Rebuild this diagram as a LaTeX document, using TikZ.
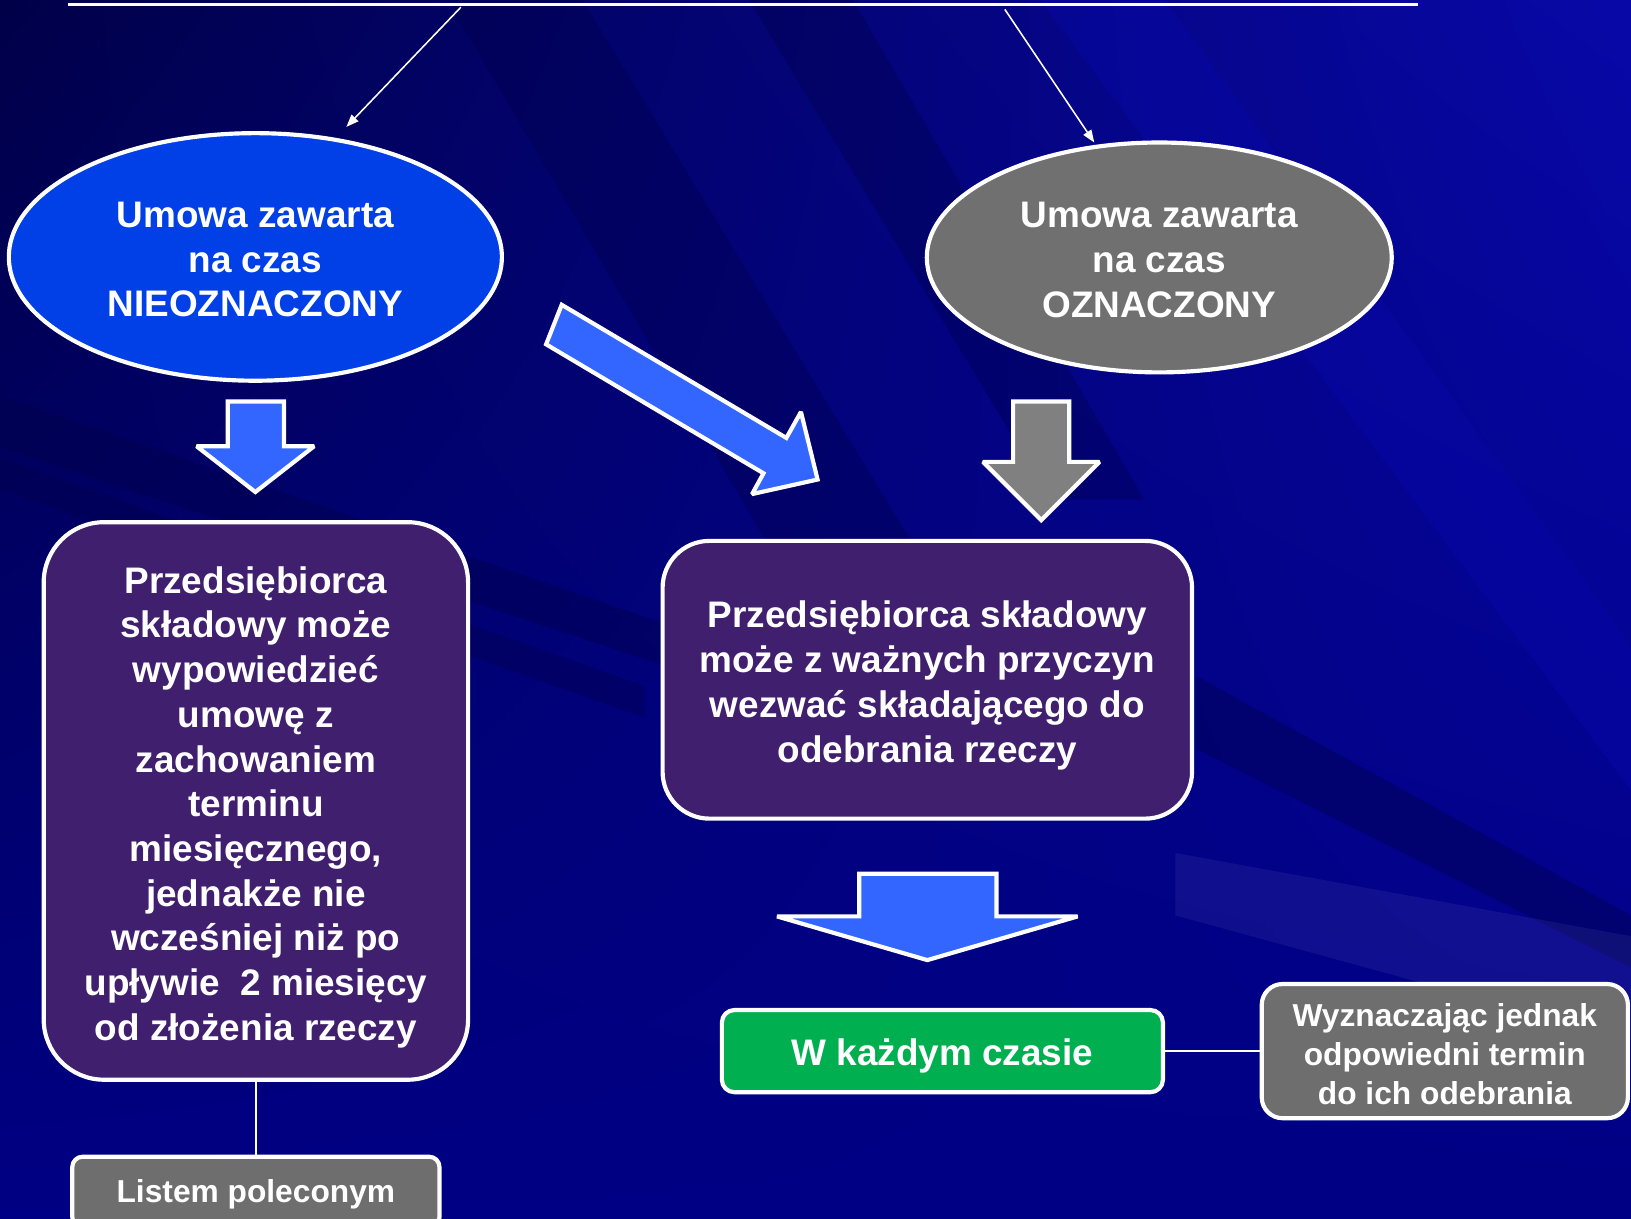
\documentclass[tikz,border=0pt]{standalone}
\usepackage{fontspec}
\setmainfont{Liberation Sans}
\usetikzlibrary{shapes.geometric,arrows.meta,shadings}
\definecolor{bgnavy}{RGB}{0,0,132}
\definecolor{bgdark}{RGB}{0,0,72}
\definecolor{bglight}{RGB}{8,8,168}
\definecolor{ellblue}{RGB}{0,64,230}
\definecolor{ellgray}{RGB}{112,112,112}
\definecolor{arrblue}{RGB}{51,102,255}
\definecolor{arrgray}{RGB}{128,128,128}
\definecolor{boxpurple}{RGB}{63,31,110}
\definecolor{boxgreen}{RGB}{0,176,80}
\definecolor{boxgray}{RGB}{110,110,110}
\begin{document}
\begin{tikzpicture}[x=1pt,y=-1pt,
  txt/.style={text=white,font=\bfseries\fontsize{35.5}{43}\selectfont,align=center,inner sep=0pt},
  smalltxt/.style={text=white,font=\bfseries\fontsize{30.5}{37.5}\selectfont,align=center,inner sep=0pt},
  oval/.style={ellipse,draw=white,line width=4pt,inner sep=0pt},
  panel/.style={rectangle,draw=white,line width=4pt,inner sep=0pt},
  blockarrow/.style={draw=white,line width=4pt,line join=miter,miter limit=2},
  thinline/.style={draw=white,line width=1.5pt},
  thinarrow/.style={draw=white,line width=1.5pt,-{Triangle[length=12pt,width=9pt]}}
]
% canvas and background
\useasboundingbox (0,0) rectangle (1568,1171);
\shade[upper left=bgdark,upper right=bglight,lower left=bgnavy,lower right=bgnavy] (0,0) rectangle (1568,1171);
\fill[bgdark,opacity=0.35] (430,0) -- (560,0) -- (900,560) -- (760,560) -- cycle;
\fill[bgdark,opacity=0.35] (720,0) -- (820,0) -- (1100,480) -- (1010,480) -- cycle;
\fill[bglight,opacity=0.45] (1000,0) -- (1120,0) -- (1568,620) -- (1568,760) -- cycle;
\fill[bgdark,opacity=0.4] (0,380) -- (0,430) -- (640,640) -- (640,600) -- cycle;
\fill[bgdark,opacity=0.35] (0,440) -- (0,470) -- (620,690) -- (620,660) -- cycle;
\fill[bgdark,opacity=0.4] (1150,650) -- (1568,880) -- (1568,930) -- (1150,720) -- cycle;
\fill[white,opacity=0.06] (1130,820) -- (1568,900) -- (1568,1000) -- (1130,880) -- cycle;

% title rule and pointers
\coordinate (ruleL) at (65,4);
\coordinate (ruleR) at (1363,4);
\draw[white,line width=3pt] (ruleL) -- (ruleR);
\coordinate (srcL) at (443,7);
\coordinate (srcR) at (966,9);
\coordinate (tipL) at (333,122);
\coordinate (tipR) at (1052,137);
\draw[thinarrow] (srcL) -- (tipL);
\draw[thinarrow] (srcR) -- (tipR);

% ellipses
\node[oval,fill=ellblue,minimum width=474pt,minimum height=238pt] (nieozn) at (245.5,247) {};
\node[txt] (nieoznT) at ([yshift=-2.5pt]nieozn.center) {Umowa zawarta\\na czas\\NIEOZNACZONY};
\node[oval,fill=ellgray,minimum width=447pt,minimum height=221pt] (ozn) at (1114.5,247.5) {};
\node[txt] (oznT) at ([yshift=-2.5pt]ozn.center) {Umowa zawarta\\na czas\\OZNACZONY};

% block arrows
\filldraw[blockarrow,fill=arrblue] (219,386) -- (273,386) -- (273,429) -- (302,429) -- (245.5,473)
  -- (189,429) -- (219,429) -- cycle;
\filldraw[blockarrow,fill=arrgray] (974,386) -- (1028,386) -- (1028,444) -- (1057,444) -- (1001,500)
  -- (945,444) -- (974,444) -- cycle;
\filldraw[blockarrow,fill=arrblue] (540,293) -- (756,421) -- (770,396) -- (786,461) -- (723,475)
  -- (734,455) -- (525,331) -- cycle;
\filldraw[blockarrow,fill=arrblue] (826,840) -- (958,840) -- (958,881) -- (1036,881) -- (891.5,923)
  -- (747,881) -- (826,881) -- cycle;

% boxes
\node[panel,fill=boxpurple,rounded corners=58pt,minimum width=408pt,minimum height=536pt] (wypow) at (246,770) {};
\node[txt] (wypowT) at ([yshift=-6pt]wypow.center)
  {Przedsiębiorca\\składowy może\\wypowiedzieć\\umowę z\\zachowaniem\\terminu\\miesięcznego,\\jednakże nie\\wcześniej niż po\\upływie~~2 miesięcy\\od złożenia rzeczy};
\node[panel,fill=boxpurple,rounded corners=45pt,minimum width=509pt,minimum height=267pt] (wezwac) at (891.5,653.5) {};
\node[txt] (wezwacT) at ([yshift=-5.5pt]wezwac.center)
  {Przedsiębiorca składowy\\może z ważnych przyczyn\\wezwać składającego do\\odebrania rzeczy};
\node[panel,fill=boxgreen,rounded corners=12pt,minimum width=424pt,minimum height=79pt] (kazdy) at (906,1010.5) {};
\node[txt] (kazdyT) at ([yshift=-5pt]kazdy.center) {W każdym czasie};
\node[panel,fill=boxgray,rounded corners=20pt,minimum width=352pt,minimum height=129pt] (wyzn) at (1389,1010.5) {};
\node[smalltxt] (wyznT) at ([yshift=-2.5pt]wyzn.center) {Wyznaczając jednak\\odpowiedni termin\\do ich odebrania};
\node[panel,fill=boxgray,rounded corners=10pt,minimum width=353pt,minimum height=68pt] (list) at (246,1146) {};
\node[smalltxt] (listT) at ([yshift=-2pt]list.center) {Listem poleconym};

% connectors
\draw[thinline] (kazdy.east) -- (wyzn.west);
\draw[thinline] (wypow.south) -- (list.north);
\end{tikzpicture}
\end{document}
